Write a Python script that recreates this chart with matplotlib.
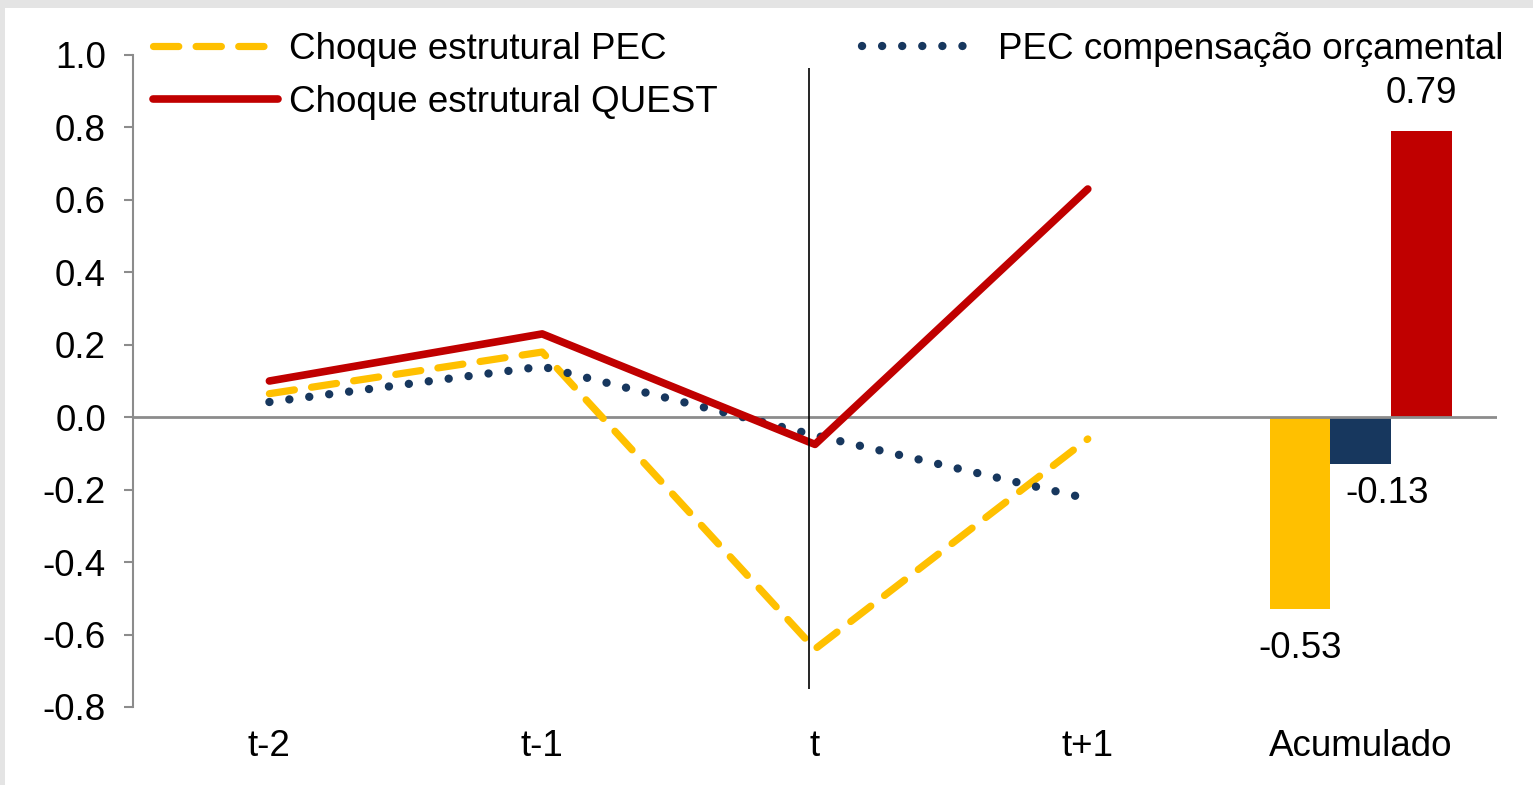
"""
Choques estruturais PEC vs QUEST, com barras do acumulado.
"""

import matplotlib.pyplot as plt
from matplotlib.patches import Rectangle

# data
periods = ["t-2", "t-1", "t", "t+1"]
all_ticks = ["t-2", "t-1", "t", "t+1", "Acumulado"]
pec_shock = [0.065, 0.18, -0.64, -0.06]
quest_shock = [0.10, 0.23, -0.075, 0.63]
pec_comp = [0.042, 0.14, -0.05, -0.225]
cumulative = [-0.53, -0.13, 0.79]  # PEC, compensação, QUEST
y_ticks = [-0.8, -0.6, -0.4, -0.2, 0.0, 0.2, 0.4, 0.6, 0.8, 1.0]

YELLOW = "#FFC000"
NAVY = "#17375E"
RED = "#C00000"
GREY = "#8c8c8c"


def main():
    plt.rcParams["font.family"] = ["Liberation Sans", "DejaVu Sans"]
    plt.rcParams["axes.unicode_minus"] = False
    fs = 26.5

    fig = plt.figure(figsize=(15.33, 7.85), dpi=100)
    fig.patch.set_facecolor("#e4e4e4")
    fig.add_artist(Rectangle((5 / 1533, 0), 1, 1 - 8 / 785, transform=fig.transFigure,
                             facecolor="white", edgecolor="none", zorder=-10))

    ax = fig.add_axes([133 / 1533, 1 - 707 / 785, 1364 / 1533, 652 / 785])
    ax.set_facecolor("none")

    x = list(range(len(periods)))

    # lines
    l_pec, = ax.plot(x, pec_shock, color=YELLOW, lw=5.2, dashes=(3.5, 2.4),
                     dash_capstyle="round", dash_joinstyle="round", zorder=4,
                     label="Choque estrutural PEC")
    l_quest, = ax.plot(x, quest_shock, color=RED, lw=5.5, solid_capstyle="round",
                       solid_joinstyle="round", zorder=5,
                       label="Choque estrutural QUEST")
    l_comp, = ax.plot(x, pec_comp, color=NAVY, lw=6, dashes=(0.01, 2.4),
                      dash_capstyle="round", zorder=4,
                      label="PEC compensação orçamental")

    # cumulative bars
    w = 0.2225
    bx = [4 - w, 4, 4 + w]
    bars = ax.bar(bx, cumulative, width=w, color=[YELLOW, NAVY, RED], zorder=2)

    offsets = [(0, -28), (19, -21), (0, 27)]
    for b, v, off in zip(bars, cumulative, offsets):
        xc = b.get_x() + b.get_width() / 2
        ax.annotate(f"{v:.2f}", (xc, v), xytext=off, textcoords="offset points",
                    ha="center", va="center", fontsize=fs)

    # zero line and vertical marker
    ax.axhline(0, color=GREY, lw=2, zorder=3)
    ax.vlines(1.978, -0.751, 0.964, color="black", lw=1.2, zorder=6)

    ax.set_xlim(-0.5, 4.5)
    ax.set_ylim(-0.8, 1.0)
    ax.set_yticks(y_ticks)
    ax.set_yticklabels([f"{t:.1f}" for t in y_ticks])
    ax.set_xticks(range(len(all_ticks)))
    ax.set_xticklabels(all_ticks)

    for s in ["top", "right", "bottom"]:
        ax.spines[s].set_visible(False)
    ax.spines["left"].set_color(GREY)
    ax.spines["left"].set_linewidth(1.5)
    ax.tick_params(axis="y", direction="out", length=6.5, width=1.5, color=GREY,
                   pad=13, labelsize=fs)
    ax.tick_params(axis="x", length=0, pad=16, labelsize=fs)

    # legend split in two blocks like the original
    leg1 = ax.legend(handles=[l_pec, l_quest], loc="upper left",
                     bbox_to_anchor=(153 / 1533, 1 - 32 / 785),
                     bbox_transform=fig.transFigure, frameon=False, fontsize=fs,
                     handlelength=3.4, handletextpad=0.3, borderpad=0,
                     borderaxespad=0, labelspacing=0.48)
    ax.add_artist(leg1)
    ax.legend(handles=[l_comp], loc="upper left",
              bbox_to_anchor=(862 / 1533, 1 - 32 / 785),
              bbox_transform=fig.transFigure, frameon=False, fontsize=fs,
              handlelength=3.0, handletextpad=0.7, borderpad=0, borderaxespad=0)

    fig.savefig("out.png", dpi=100, facecolor=fig.get_facecolor())
    plt.close(fig)


if __name__ == "__main__":
    main()
